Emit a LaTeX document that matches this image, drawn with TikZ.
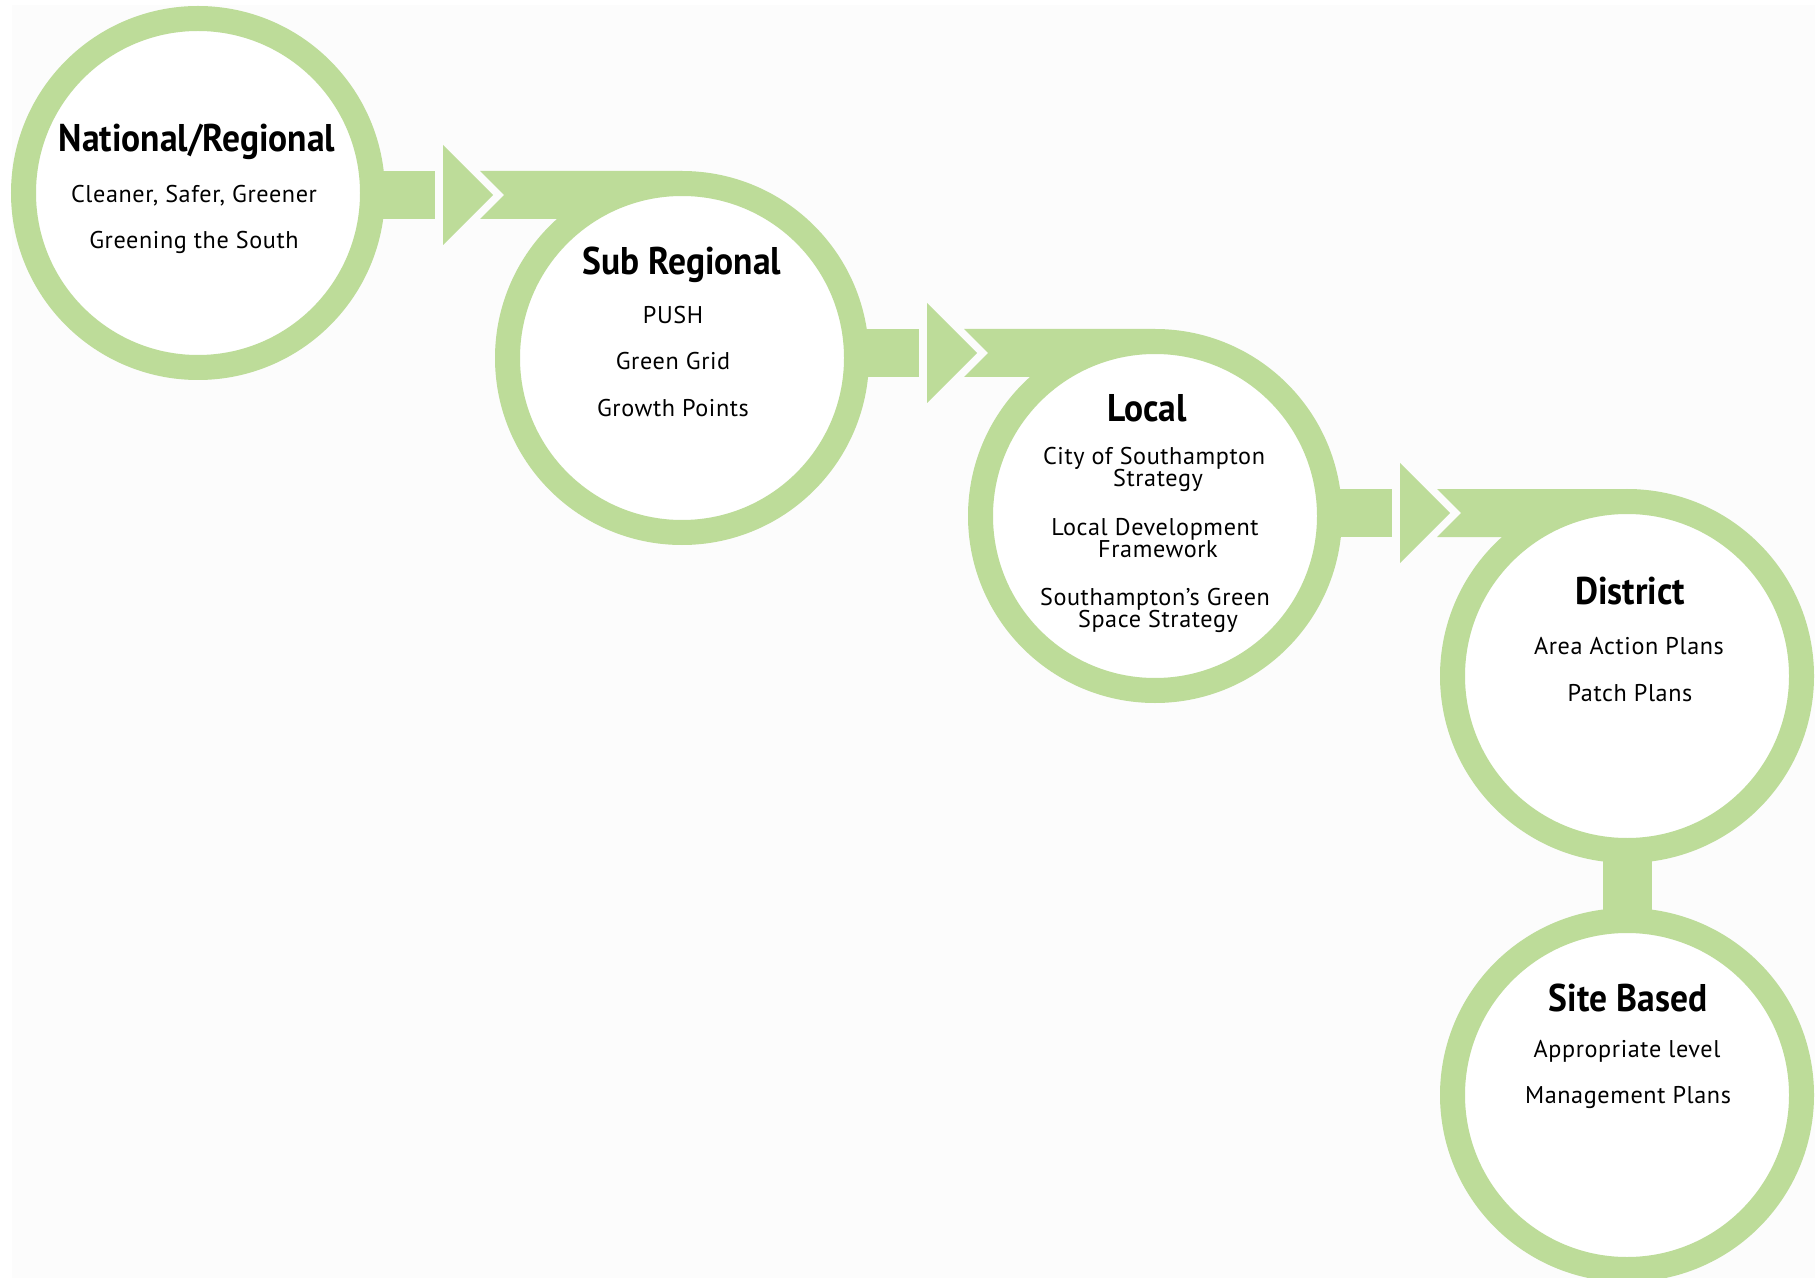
\documentclass[tikz,border=0pt]{standalone}
\usepackage{fontspec}
\setmainfont{PT Sans}[LetterSpace=2.5]
\newfontfamily\headfont{PT Sans}[FakeStretch=0.92]
\usetikzlibrary{calc,backgrounds}
\definecolor{leaf}{RGB}{189,220,153}
\definecolor{paper}{RGB}{252,252,252}
\tikzset{
  ring/.style={circle,draw=leaf,line width=12.5pt,fill=white,minimum size=174.5pt,inner sep=0pt},
  head/.style={anchor=base,inner sep=0pt,font=\headfont\fontsize{19.3}{20}\selectfont\bfseries},
  item/.style={anchor=base,inner sep=0pt,font=\fontsize{12.1}{13}\selectfont}
}
\begin{document}
\begin{tikzpicture}[x=0.5pt,y=-0.5pt]
\useasboundingbox (0,0) rectangle (1815,1278);
% the five levels
\node[ring] (nat) at (198,193) {};
\node[ring] (sub) at (682,358) {};
\node[ring] (loc) at (1155,516) {};
\node[ring] (dis) at (1627,676) {};
\node[ring] (sit) at (1627,1095) {};
% bars and arrow heads behind the rings
\begin{scope}[on background layer]
\fill[white] (0,0) rectangle (1815,1278);
\fill[paper] (12,5) rectangle (1815,1278);
\foreach \a/\b in {nat/sub,sub/loc,loc/dis}{
  \coordinate (t) at (\a.east |- \b.north);
  \fill[leaf] ($(t)+(-60,0)$) rectangle ($(t)+(50,48)$);
  \fill[leaf] ($(t)+(58,-26)$) -- ($(t)+(108,24)$) -- ($(t)+(58,74)$) -- cycle;
  \fill[leaf] ($(t)+(95,0)$) -- ($(t)+(119,24)$) -- ($(t)+(95,48)$)
    -- ($(\b.north)+(0,48)$) -- (\b.north) -- cycle;
}
\fill[leaf] ($(dis.center)+(-24.5,0)$) rectangle ($(sit.center)+(24.5,0)$);
\end{scope}
% National/Regional
\node[head] (natH) at ($(nat)+(-1,-41)$) {National/Regional};
\node[item] (nat1) at ($(nat)+(-4,10)$) {Cleaner, Safer, Greener};
\node[item] (nat2) at ($(nat)+(-4,56)$) {Greening the South};
% Sub Regional
\node[head] (subH) at ($(sub)+(0,-83)$) {Sub Regional};
\node[item] (sub1) at ($(sub)+(-9,-34)$) {PUSH};
\node[item] (sub2) at ($(sub)+(-9,12)$) {Green Grid};
\node[item] (sub3) at ($(sub)+(-9,59)$) {Growth Points};
% Local
\node[head] (locH) at ($(loc)+(-8,-94)$) {Local};
\node[item] (loc1) at ($(loc)+(-1,-51)$) {City of Southampton};
\node[item] (loc1b) at ($(loc)+(3,-29)$) {Strategy};
\node[item] (loc2) at ($(loc)+(0,19)$) {Local Development};
\node[item] (loc2b) at ($(loc)+(3,41)$) {Framework};
\node[item] (loc3) at ($(loc)+(0,89)$) {Southampton’s Green};
\node[item] (loc3b) at ($(loc)+(3,111)$) {Space Strategy};
% District
\node[head] (disH) at ($(dis)+(3,-72)$) {District};
\node[item] (dis1) at ($(dis)+(2,-22)$) {Area Action Plans};
\node[item] (dis2) at ($(dis)+(3,25)$) {Patch Plans};
% Site Based
\node[head] (sitH) at ($(sit)+(1,-84)$) {Site Based};
\node[item] (sit1) at ($(sit)+(0,-38)$) {Appropriate level};
\node[item] (sit2) at ($(sit)+(1,8)$) {Management Plans};
\end{tikzpicture}
\end{document}
